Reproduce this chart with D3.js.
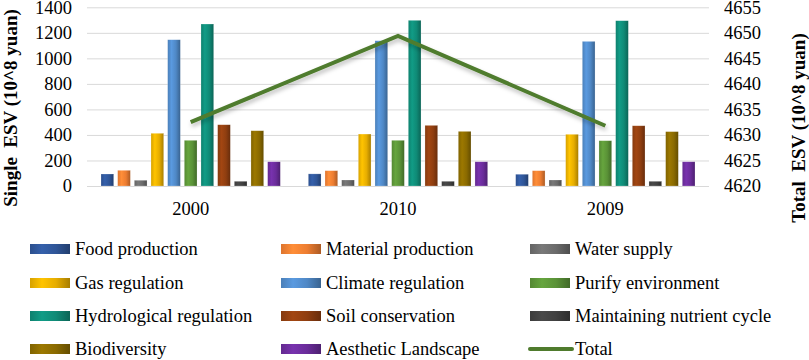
<html>

<head>
    <meta charset="utf-8">
    <title>ESV chart</title>
</head>
<style>
    body { margin: 0; background: #fff; }
    svg text { font-family: "Liberation Serif", "Times New Roman", serif; }
</style>

<body>
    <script src="https://cdn.jsdelivr.net/npm/d3@7"></script>
    <script>
        var width = 809;
        var height = 360;
        var serif = "'Liberation Serif', 'Times New Roman', serif";

        // data
        var years = ["2000", "2010", "2009"];
        var names = ["Food production", "Material production", "Water supply",
            "Gas regulation", "Climate regulation", "Purify environment",
            "Hydrological regulation", "Soil conservation", "Maintaining nutrient cycle",
            "Biodiversity", "Aesthetic Landscape"];
        var food = [94, 95, 92];
        var material = [123, 120, 120];
        var water = [45, 47, 47];
        var gas = [413, 407, 405];
        var climate = [1146, 1138, 1133];
        var purify = [358, 358, 355];
        var hydro = [1269, 1298, 1295];
        var soil = [480, 475, 472];
        var nutrient = [37, 37, 37];
        var bio = [433, 428, 426];
        var aesthetic = [190, 190, 190];
        var total = [4632.5, 4649.4, 4631.8];
        var leftTicks = [0, 200, 400, 600, 800, 1000, 1200, 1400];
        var rightTicks = [4620, 4625, 4630, 4635, 4640, 4645, 4650, 4655];

        var values = [food, material, water, gas, climate, purify, hydro, soil, nutrient, bio, aesthetic];
        var colors = ["#2f5597", "#ed7d31", "#6b6b6b", "#e6ad00", "#4f88c6", "#5a9237",
            "#0f8a76", "#8f3e10", "#404040", "#8a6a00", "#6a2c9a"];

        var svg = d3.select("body").append("svg")
            .attr("width", width)
            .attr("height", height);

        var defs = svg.append("defs");

        // bevelled look of the bars
        colors.forEach(function (c, i) {
            var g = defs.append("linearGradient")
                .attr("id", "grad" + i)
                .attr("x1", 0).attr("x2", 1).attr("y1", 0).attr("y2", 0);
            var base = d3.color(c);
            g.append("stop").attr("offset", "0%").attr("stop-color", base.darker(0.2));
            g.append("stop").attr("offset", "30%").attr("stop-color", base.brighter(0.35));
            g.append("stop").attr("offset", "65%").attr("stop-color", base);
            g.append("stop").attr("offset", "100%").attr("stop-color", base.darker(0.9));
        });

        var shadow = defs.append("filter").attr("id", "shadow")
            .attr("x", "-10%").attr("y", "-20%").attr("width", "120%").attr("height", "160%");
        shadow.append("feDropShadow")
            .attr("dx", 1).attr("dy", 3).attr("stdDeviation", 2)
            .attr("flood-color", "#000").attr("flood-opacity", 0.25);

        var x0 = d3.scaleBand().domain(years).range([87, 709]);
        var x1 = d3.scaleBand().domain(names)
            .range([14, x0.bandwidth() - 14])
            .paddingInner(0.238);
        var y = d3.scaleLinear().domain([0, 1400]).range([186, 7.3]);
        var y2 = d3.scaleLinear().domain([4620, 4655]).range([186, 7.3]);

        function styleTicks(g) {
            g.select(".domain").remove();
            g.attr("font-family", serif).attr("font-size", "18.5px");
            g.selectAll("text").attr("fill", "#000");
        }

        // grid
        svg.append("g")
            .attr("transform", "translate(87,0)")
            .call(d3.axisLeft(y).tickValues(leftTicks).tickSize(-622).tickFormat(""))
            .call(function (g) { g.select(".domain").remove(); })
            .selectAll("line")
            .attr("stroke", "#d9d9d9");

        // left axis
        svg.append("g")
            .attr("transform", "translate(72,0)")
            .call(d3.axisLeft(y).tickValues(leftTicks).tickSize(0).tickPadding(0).tickFormat(d3.format("d")))
            .call(styleTicks);

        // right axis
        svg.append("g")
            .attr("transform", "translate(724,0)")
            .call(d3.axisRight(y2).tickValues(rightTicks).tickSize(0).tickPadding(0).tickFormat(d3.format("d")))
            .call(styleTicks);

        // x axis labels
        svg.append("g")
            .attr("transform", "translate(0,202)")
            .call(d3.axisBottom(x0).tickSize(0).tickPadding(0))
            .call(styleTicks);

        // bars
        var groups = svg.selectAll("g.year")
            .data(years)
            .enter()
            .append("g")
            .attr("class", "year")
            .attr("transform", function (d) { return "translate(" + x0(d) + ",0)"; });

        groups.selectAll("rect")
            .data(function (d, j) {
                return names.map(function (n, i) { return { name: n, i: i, v: values[i][j] }; });
            })
            .enter()
            .append("rect")
            .attr("x", function (d) { return x1(d.name); })
            .attr("width", x1.bandwidth())
            .attr("y", function (d) { return y(d.v); })
            .attr("height", function (d) { return y(0) - y(d.v); })
            .attr("fill", function (d) { return "url(#grad" + d.i + ")"; })
            .attr("stroke", "rgba(255,255,255,0.35)")
            .attr("stroke-width", 0.6);

        // total line
        var line = d3.line()
            .x(function (d, i) { return x0(years[i]) + x0.bandwidth() / 2; })
            .y(function (d) { return y2(d); });

        svg.append("path")
            .datum(total)
            .attr("d", line)
            .attr("fill", "none")
            .attr("stroke", "#4f7b2d")
            .attr("stroke-width", 4)
            .attr("filter", "url(#shadow)");

        // axis titles
        svg.append("text")
            .attr("transform", "translate(17,108) rotate(-90)")
            .attr("text-anchor", "middle")
            .attr("font-family", serif)
            .attr("font-size", "19px")
            .attr("font-weight", "bold")
            .style("white-space", "pre")
            .text("Single  ESV (10^8 yuan)");

        svg.append("text")
            .attr("transform", "translate(805,128) rotate(-90)")
            .attr("text-anchor", "middle")
            .attr("font-family", serif)
            .attr("font-size", "19px")
            .attr("font-weight", "bold")
            .style("white-space", "pre")
            .text("Total  ESV (10^8 yuan)");

        // legend
        var colX = [30, 281, 530];
        var rowY = [249, 283, 316, 349];
        var legendItems = names.concat(["Total"]);

        var legend = svg.selectAll("g.legend")
            .data(legendItems)
            .enter()
            .append("g")
            .attr("class", "legend")
            .attr("transform", function (d, i) {
                return "translate(" + colX[i % 3] + "," + rowY[Math.floor(i / 3)] + ")";
            });

        legend.each(function (d, i) {
            var g = d3.select(this);
            if (d === "Total") {
                g.append("line")
                    .attr("x1", 0).attr("x2", 42)
                    .attr("y1", 0).attr("y2", 0)
                    .attr("stroke", "#4f7b2d")
                    .attr("stroke-width", 4)
                    .attr("stroke-linecap", "round");
            } else {
                g.append("rect")
                    .attr("x", 0).attr("y", -5)
                    .attr("width", 40).attr("height", 10)
                    .attr("fill", "url(#grad" + i + ")");
            }
            g.append("text")
                .attr("x", 45)
                .attr("dy", "0.35em")
                .attr("font-family", serif)
                .attr("font-size", "18.5px")
                .text(d);
        });

    </script>

</body>

</html>
